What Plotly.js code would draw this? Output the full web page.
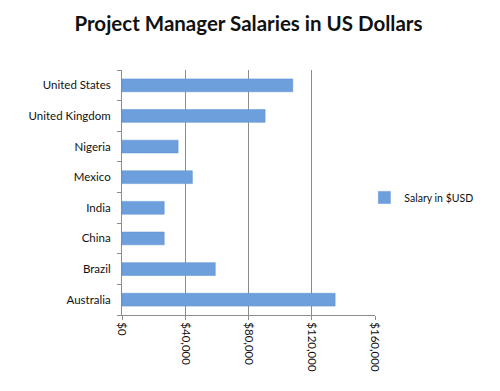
<!DOCTYPE html>
<html>
<head>
<meta charset="utf-8">
<script src="https://cdn.plot.ly/plotly-3.0.1.min.js"></script>
<style>html,body{margin:0;padding:0;background:#fff;}#chart{width:500px;height:391px;}</style>
</head>
<body>
<div id="chart"></div>
<script>
const countries = ["Australia","Brazil","China","India","Mexico","Nigeria","United Kingdom","United States"];
const salaries = [134800, 59000, 26700, 26700, 44500, 35500, 90500, 108000];
const seriesName = "Salary in $USD";
const tickValues = [0, 40000, 80000, 120000, 160000];
const tickLabels = ["$0", "$40,000", "$80,000", "$120,000", "$160,000"];

const trace = {
  type: "bar",
  orientation: "h",
  y: countries,
  x: salaries,
  name: seriesName,
  width: 0.42,
  marker: {color: "#6d9fdc", line: {color: "#5b8fd0", width: 0.5}},
  hoverinfo: "x+y"
};

const layout = {
  width: 500, height: 391,
  margin: {l: 122, r: 125, t: 70, b: 76},
  paper_bgcolor: "#ffffff", plot_bgcolor: "#ffffff",
  font: {family: "Lato, 'Open Sans', sans-serif", size: 11, color: "#111"},
  title: {
    text: "<b>Project Manager Salaries in US Dollars</b>",
    font: {family: "Lato, 'Open Sans', sans-serif", size: 20.5, color: "#111"},
    x: 0.5, xref: "paper", xanchor: "center",
    y: 0.94, yref: "container", yanchor: "middle"
  },
  xaxis: {
    range: [0, 160000],
    tickvals: tickValues,
    ticktext: tickLabels,
    tickangle: 90,
    showgrid: true, gridcolor: "#8c8c8c", gridwidth: 1,
    showline: true, linecolor: "#8c8c8c", linewidth: 1,
    ticks: "outside", ticklen: 4, tickcolor: "#8c8c8c",
    zeroline: false,
    fixedrange: true,
    tickfont: {size: 11.5, color: "#111"}
  },
  yaxis: {
    type: "category",
    showgrid: false,
    showline: true, linecolor: "#8c8c8c", linewidth: 1,
    ticks: "outside", ticklen: 4, tickcolor: "#8c8c8c",
    tickson: "boundaries",
    zeroline: false,
    fixedrange: true,
    tickfont: {size: 11.5, color: "#111"},
    ticklabelstandoff: 8
  },
  showlegend: true,
  legend: {
    x: 0.958, xanchor: "left", y: 0.48, yanchor: "middle",
    font: {size: 10.5, color: "#111"},
    itemwidth: 30,
    bgcolor: "rgba(0,0,0,0)"
  },
  bargap: 0.58
};

Plotly.newPlot("chart", [trace], layout, {displayModeBar: false, staticPlot: true});
</script>
</body>
</html>
